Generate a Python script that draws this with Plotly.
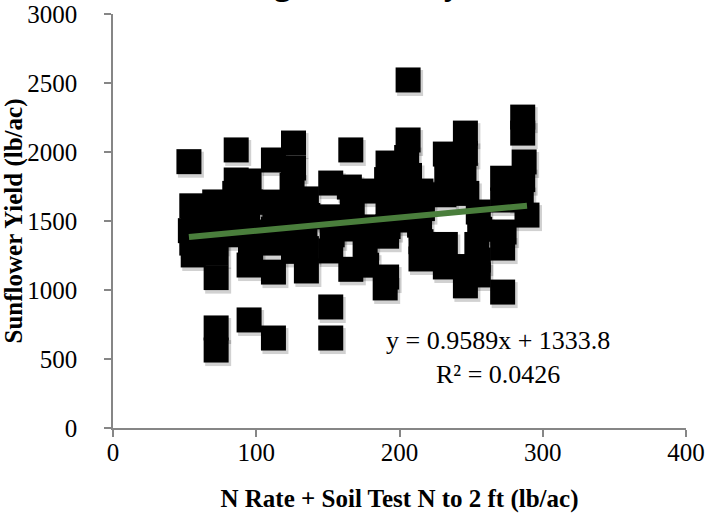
import plotly.graph_objects as go

# ---- data ----
x_vals = [
    53, 55, 56, 54, 55, 56,
    71, 72, 73, 71, 72, 72, 72, 72,
    86, 86, 85, 87, 86, 85,
    95, 96, 94, 95, 96, 95, 95,
    112, 111, 113, 112, 112, 112, 112,
    126, 126, 125, 127, 126, 125, 126,
    135, 136, 134, 135, 135,
    152, 151, 153, 152, 152, 152,
    166, 165, 167, 166, 166,
    176, 177, 176, 177,
    192, 191, 193, 192, 192, 191, 191, 190,
    206, 206, 205, 207, 206, 206, 206,
    215, 216, 214, 215, 215,
    232, 233, 231, 232, 232,
    246, 246, 245, 247, 246, 246,
    255, 256, 254, 255, 255,
    272, 272, 273, 272, 272,
    286, 286, 287, 286, 285, 289,
]
y_vals = [
    1930, 1610, 1520, 1430, 1340, 1254,
    1638, 1540, 1450, 1360, 1270, 1090, 725, 565,
    2015, 1797, 1700, 1600, 1500, 1400,
    1790, 1637, 1540, 1420, 1300, 1181, 783,
    1942, 1637, 1530, 1440, 1340, 1130, 652,
    2065, 1884, 1760, 1640, 1520, 1400, 1280,
    1660, 1540, 1420, 1300, 1138,
    1775, 1530, 1400, 1283, 877, 652,
    2015, 1746, 1600, 1442, 1150,
    1717, 1457, 1330, 1180,
    1920, 1800, 1680, 1560, 1460, 1390, 1094, 1015,
    2522, 2087, 1960, 1830, 1700, 1600, 1507,
    1717, 1590, 1470, 1350, 1225,
    1985, 1850, 1690, 1330, 1167,
    2137, 1990, 1850, 1700, 1170, 1030,
    1565, 1440, 1330, 1217, 1109,
    1810, 1652, 1420, 1304, 985,
    2253, 2137, 1928, 1800, 1670, 1543,
]
slope = 0.9589
intercept = 1333.8
r_squared = 0.0426
x_ticks = [0, 100, 200, 300, 400]
y_ticks = [0, 500, 1000, 1500, 2000, 2500, 3000]
x_title = "N Rate + Soil Test N to 2 ft (lb/ac)"
y_title = "Sunflower Yield (lb/ac)"
chart_title = "Regional Study"

FONT = "Liberation Serif, Times New Roman, serif"

fig = go.Figure()

# soft drop shadow under the squares (offset by a couple of pixels)
sx = [v + 1.4 for v in x_vals]
sy = [v - 22 for v in y_vals]
fig.add_trace(go.Scatter(
    x=sx, y=sy, mode="markers",
    marker=dict(symbol="square", size=26, color="rgba(0,0,0,0.18)", line=dict(width=0)),
    hoverinfo="skip", showlegend=False))

fig.add_trace(go.Scatter(
    x=x_vals, y=y_vals, mode="markers",
    marker=dict(symbol="square", size=25, color="#000000", line=dict(width=0)),
    showlegend=False))

# linear trendline from the fitted equation
x_lo, x_hi = min(x_vals), max(x_vals)
fig.add_trace(go.Scatter(
    x=[x_lo, x_hi], y=[slope * x_lo + intercept, slope * x_hi + intercept],
    mode="lines", line=dict(color="#4a7e3c", width=6), showlegend=False, hoverinfo="skip"))

fig.add_annotation(
    x=269, y=508, xref="x", yref="y", showarrow=False,
    text=f"y = {slope}x + {intercept}<br>R² = {r_squared}",
    font=dict(family=FONT, size=26, color="#000000"), align="center")

# title mostly cut off at the top of the picture
fig.add_annotation(
    x=0.41, y=1.0, xref="paper", yref="paper", xanchor="center", yanchor="bottom",
    yshift=10, showarrow=False, text=f"<b>{chart_title}</b>",
    font=dict(family=FONT, size=35, color="#000000"))

axis_common = dict(
    showgrid=False, zeroline=False, showline=True, linecolor="#868686", linewidth=1.5,
    ticks="outside", tickcolor="#868686", tickwidth=1.5, ticklen=7, automargin=False,
    ticklabeloverflow="allow",
    tickfont=dict(family=FONT, size=25, color="#000000"),
)

fig.update_layout(
    width=706, height=513,
    margin=dict(l=113, r=20, t=14, b=85),
    paper_bgcolor="white", plot_bgcolor="white",
    font=dict(family=FONT, color="#000000"),
    xaxis=dict(range=[0, 400], tickvals=x_ticks, ticklabelstandoff=-6,
               title=dict(text=f"<b>{x_title}</b>", font=dict(family=FONT, size=25), standoff=25),
               **axis_common),
    yaxis=dict(range=[0, 3000], tickvals=y_ticks, ticklabelstandoff=22,
               title=dict(text=f"<b>{y_title}</b>", font=dict(family=FONT, size=25), standoff=10),
               **axis_common),
)

# remove the page's default body margin so the figure fills the window exactly
fig.write_html("out.html",
               config={"displayModeBar": False},
               post_script="document.body.style.margin='0';document.body.style.overflow='hidden';")
